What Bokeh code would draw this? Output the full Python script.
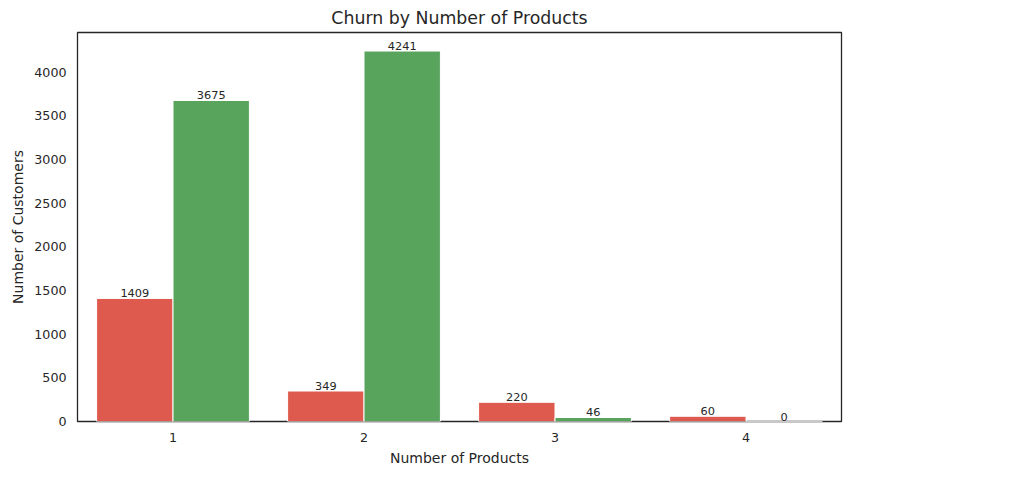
from bokeh.plotting import figure
from bokeh.models import ColumnDataSource, Legend, LegendItem, FixedTicker, LabelSet
from bokeh.core.properties import value
from bokeh.embed import file_html
from bokeh.resources import INLINE

products = [1, 2, 3, 4]
churned = [1409, 349, 220, 60]
stayed = [3675, 4241, 46, 0]

FONT = "DejaVu Sans"
p = figure(frame_width=764, frame_height=389, output_backend="svg", toolbar_location=None,
           x_range=(0.5, 4.5), y_range=(0, 4453), min_border_left=77, min_border_right=180,
           min_border_top=0, min_border_bottom=40, title="Churn by Number of Products")
p.title.align = "center"
p.title.text_font = FONT
p.title.text_font_size = "13pt"
p.title.text_font_style = "normal"
p.title.text_color = "#262626"

s1 = ColumnDataSource(dict(x=[v - 0.2 for v in products], y=churned, t=[str(v) for v in churned]))
s2 = ColumnDataSource(dict(x=[v + 0.2 for v in products], y=stayed, t=[str(v) for v in stayed]))
r1 = p.vbar(x="x", top="y", width=0.4, source=s1, fill_color="#df5a4e", line_color="white", line_width=1)
r2 = p.vbar(x="x", top="y", width=0.4, source=s2, fill_color="#58a45d", line_color="white", line_width=1)
for s in (s1, s2):
    p.add_layout(LabelSet(x="x", y="y", text="t", source=s, text_align="center", text_baseline="bottom",
                          y_offset=1, text_font=value(FONT), text_font_size="8.5pt", text_color="#262626"))

p.xaxis.ticker = FixedTicker(ticks=products)
p.yaxis.ticker = FixedTicker(ticks=[0, 500, 1000, 1500, 2000, 2500, 3000, 3500, 4000])
p.xaxis.axis_label = "Number of Products"
p.yaxis.axis_label = "Number of Customers"
for ax in (p.xaxis, p.yaxis):
    ax.axis_label_text_font = FONT
    ax.axis_label_text_font_style = "normal"
    ax.axis_label_text_font_size = "10.5pt"
    ax.axis_label_text_color = "#262626"
    ax.major_label_text_font = FONT
    ax.major_label_text_font_size = "9.5pt"
    ax.major_label_text_color = "#262626"
    ax.axis_line_color = None
    ax.major_tick_line_color = None
    ax.minor_tick_line_color = None
p.xgrid.grid_line_color = None
p.ygrid.grid_line_color = None
p.outline_line_color = "#262626"
p.outline_line_width = 1.3

legend = Legend(items=[LegendItem(label="Churned", renderers=[r1]), LegendItem(label="Stayed", renderers=[r2])],
                title="Customer Status", location=(787, 155))
legend.title_text_font = FONT
legend.title_text_font_size = "10.5pt"
legend.title_text_color = "#262626"
legend.label_text_font = FONT
legend.label_text_font_size = "10pt"
legend.label_text_color = "#262626"
legend.border_line_color = "#cccccc"
legend.border_line_width = 1
legend.glyph_width = 28
legend.glyph_height = 12
legend.spacing = 4
legend.padding = 6
p.add_layout(legend, "center")

open("out.html", "w").write(file_html(p, INLINE))
